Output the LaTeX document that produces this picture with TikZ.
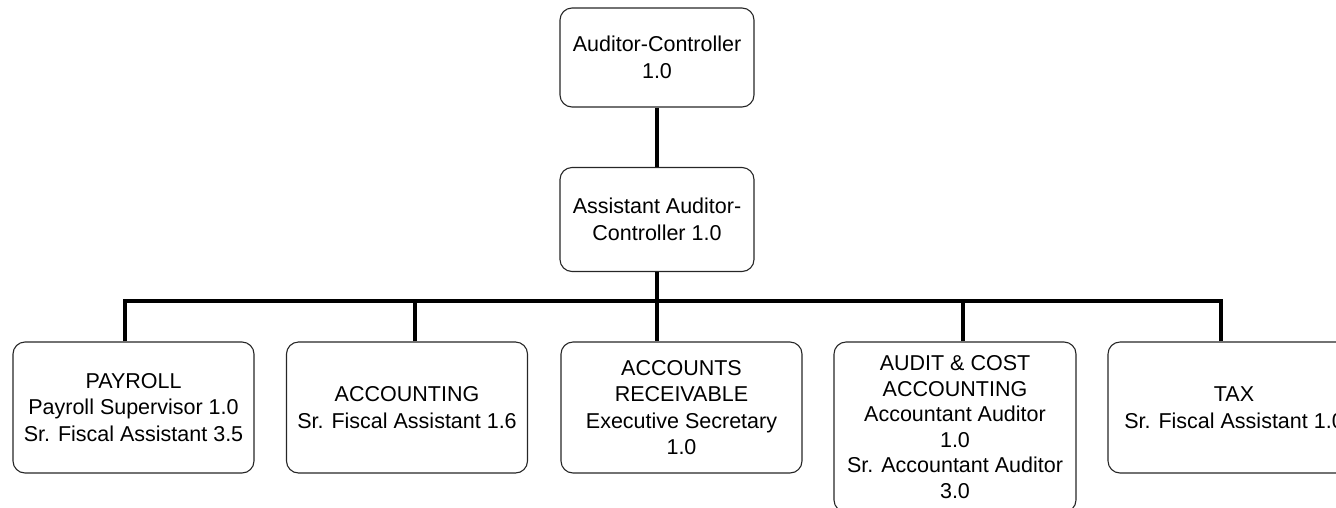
\documentclass[tikz,border=0pt]{standalone}
\usepackage{fontspec}
\setmainfont{Liberation Sans}
\begin{document}
\begin{tikzpicture}[x=1pt,y=-1pt,
  box/.style={draw=black!85, line width=1.1pt, rounded corners=12pt, align=center,
    font=\fontsize{21.5}{26.5}\selectfont, inner sep=0pt},
  topbox/.style={box, minimum width=194pt},
  lowbox/.style={box, minimum width=241pt, minimum height=131pt},
  conn/.style={line width=3.2pt, line join=miter, line cap=butt}]
\useasboundingbox (0,0) rectangle (1336,507);
\clip (0,0) rectangle (1336,507);
\node[topbox, minimum height=99pt] (ac) at (657,57.5) {Auditor-Controller\\1.0};
\node[topbox, minimum height=104pt] (aac) at (657,219.5) {Assistant Auditor-\\Controller 1.0};
\node[lowbox] (pay) at (133.5,407.5) {PAYROLL\\Payroll Supervisor 1.0\\Sr. Fiscal Assistant 3.5};
\node[lowbox] (acc) at (407,407.5) {ACCOUNTING\\Sr. Fiscal Assistant 1.6};
\node[lowbox] (ar) at (681.5,407.5) {ACCOUNTS\\RECEIVABLE\\Executive Secretary\\1.0};
\node[lowbox, minimum width=242pt, minimum height=170pt, font=\fontsize{21.5}{25.5}\selectfont] (audit) at (955,427) {AUDIT \& COST\\ACCOUNTING\\Accountant Auditor\\1.0\\Sr. Accountant Auditor\\3.0};
\node[lowbox, minimum width=252pt] (tax) at (1234,407.5) {TAX\\Sr. Fiscal Assistant 1.0};
\coordinate (bar) at (657,301);
\draw[conn] (ac.south) -- (aac.north);
\draw[conn] (aac.south) -- (ar.north -| aac.south);
\draw[conn] (pay.north -| 125,0) |- (bar) -| (tax.north -| 1221,0);
\draw[conn] (acc.north -| 415,0) -- (bar -| 415,0);
\draw[conn] (audit.north -| 963,0) -- (bar -| 963,0);
\end{tikzpicture}
\end{document}
